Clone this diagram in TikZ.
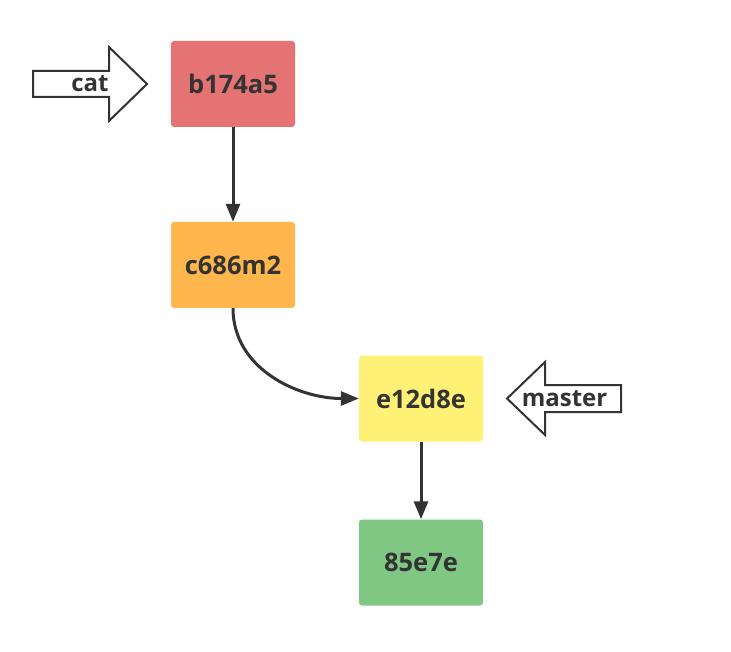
\documentclass[tikz,border=0pt]{standalone}
\usepackage{fontspec}
\setmainfont{Open Sans}
\usetikzlibrary{arrows.meta,positioning}

\definecolor{txtgray}{HTML}{333333}
\definecolor{cred}{HTML}{E57373}
\definecolor{corange}{HTML}{FFB74D}
\definecolor{cyellow}{HTML}{FFF176}
\definecolor{cgreen}{HTML}{81C784}

\begin{document}
\begin{tikzpicture}[
  x=1pt, y=-1pt,
  commit/.style={minimum width=124pt, minimum height=86pt, rounded corners=3pt,
    font=\fontsize{25.5}{28}\selectfont\bfseries, text=txtgray, inner sep=0pt},
  arr/.style={-{Triangle[length=18pt, width=14pt]}, line width=3pt, draw=txtgray},
  blk/.style={draw=txtgray, line width=2pt, fill=white, line join=miter},
  lbl/.style={font=\fontsize{24}{28}\selectfont\bfseries, text=txtgray, inner sep=0pt}
]
\useasboundingbox (0,0) rectangle (731,652);
\node[commit, fill=cred] (b174) at (233,84) {b174a5};
\node[commit, fill=corange] (c686) at (233,265) {c686m2};
\node[commit, fill=cyellow] (e12d) at (421,398.5) {e12d8e};
\node[commit, fill=cgreen] (e85) at (421,562.5) {85e7e};
\draw[arr] (b174) -- (c686);
\draw[arr] (c686.south) to[out=-90, in=180] (e12d.west);
\draw[arr] (e12d) -- (e85);
% branch pointers
\draw[blk] (33,71) -- (109,71) -- (109,47) -- (147,84) -- (109,121) -- (109,97) -- (33,97) -- cycle;
\node[lbl] (cat) at (90,84) {cat};
\draw[blk] (621,385) -- (545,385) -- (545,362) -- (507,398.5) -- (545,435) -- (545,412) -- (621,412) -- cycle;
\node[lbl] (master) at (564.5,398.5) {master};
\end{tikzpicture}
\end{document}
